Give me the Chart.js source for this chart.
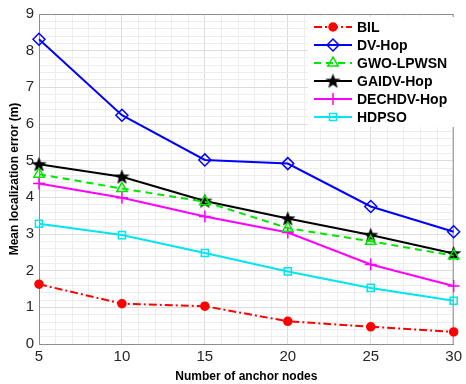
<!DOCTYPE html>
<html>
<head>
<meta charset="utf-8">
<script src="https://cdn.jsdelivr.net/npm/chart.js@4/dist/chart.umd.min.js"></script>
<style>
  html, body { margin: 0; padding: 0; background: #fff; }
  #wrap { width: 466px; height: 384px; }
</style>
</head>
<body>
<div id="wrap"><canvas id="chart" width="466" height="384"></canvas></div>
<script>
// data
const anchors = [5, 10, 15, 20, 25, 30];
const bil     = [1.63, 1.10, 1.03, 0.62, 0.47, 0.33];
const dvHop   = [8.31, 6.24, 5.02, 4.92, 3.75, 3.06];
const gwo     = [4.63, 4.24, 3.88, 3.16, 2.80, 2.41];
const gaidv   = [4.90, 4.56, 3.90, 3.42, 2.97, 2.47];
const dechdv  = [4.38, 3.99, 3.48, 3.04, 2.17, 1.58];
const hdpso   = [3.28, 2.97, 2.48, 1.98, 1.53, 1.18];
const xTicks  = [5, 10, 15, 20, 25, 30];
const yTicks  = [0, 1, 2, 3, 4, 5, 6, 7, 8, 9];

const pts = arr => arr.map((v, i) => ({ x: anchors[i], y: v }));

// filled five point star (MATLAB pentagram)
function pentagram(size) {
    const c = document.createElement('canvas');
    c.width = size; c.height = size;
    const g = c.getContext('2d');
    const cx = size / 2, cy = size / 2 + 0.5, R = size / 2 - 0.5, r = R * 0.42;
    g.beginPath();
    for (let i = 0; i < 10; i++) {
        const rad = i % 2 === 0 ? R : r;
        const a = -Math.PI / 2 + i * Math.PI / 5;
        g.lineTo(cx + rad * Math.cos(a), cy + rad * Math.sin(a));
    }
    g.closePath();
    g.fillStyle = '#000';
    g.fill();
    return c;
}
const starImg = pentagram(17);

const datasets = [
    { label: 'BIL', data: pts(bil), borderColor: '#ff0000', backgroundColor: '#ff0000',
      borderDash: [8, 3, 2, 3], pointStyle: 'circle', pointRadius: 4 },
    { label: 'DV-Hop', data: pts(dvHop), borderColor: '#0000ff', backgroundColor: 'rgba(0,0,0,0)',
      pointStyle: 'rectRot', pointRadius: 6 },
    { label: 'GWO-LPWSN', data: pts(gwo), borderColor: '#00e600', backgroundColor: 'rgba(0,0,0,0)',
      borderDash: [7, 5], pointStyle: 'triangle', pointRadius: 6 },
    { label: 'GAIDV-Hop', data: pts(gaidv), borderColor: '#000000', backgroundColor: '#000000',
      pointStyle: starImg, pointRadius: 8 },
    { label: 'DECHDV-Hop', data: pts(dechdv), borderColor: '#ff00ff', backgroundColor: '#ff00ff',
      pointStyle: 'cross', pointRadius: 6 },
    { label: 'HDPSO', data: pts(hdpso), borderColor: '#00e5ee', backgroundColor: 'rgba(0,0,0,0)',
      pointStyle: 'rect', pointRadius: 5 },
].map(d => Object.assign({
    borderWidth: 2, pointBorderWidth: 1.5, tension: 0, fill: false,
    pointBorderColor: d.borderColor, pointBackgroundColor: d.backgroundColor,
    clip: false
}, d));

const isMajor = v => Math.abs(v - Math.round(v)) < 1e-6;

// box around the plot
const boxPlugin = {
    id: 'box',
    beforeDatasetsDraw(chart) {
        const a = chart.chartArea, c = chart.ctx;
        c.save();
        c.strokeStyle = '#8c8c8c';
        c.lineWidth = 1;
        c.strokeRect(a.left + 0.5, a.top + 0.5, a.right - a.left - 1, a.bottom - a.top);
        c.restore();
    }
};

// MATLAB style legend inside the axes
const legendPlugin = {
    id: 'matLegend',
    afterDatasetsDraw(chart) {
        const c = chart.ctx;
        const x0 = 308, y0 = 17, w = 150, h = 110;
        c.save();
        c.fillStyle = '#fff';
        c.fillRect(x0, y0, w, h);
        chart.data.datasets.forEach((ds, i) => {
            const y = 27 + i * 18;
            c.strokeStyle = ds.borderColor;
            c.lineWidth = 2;
            c.setLineDash(ds.borderDash || []);
            c.beginPath();
            c.moveTo(314, y);
            c.lineTo(352, y);
            c.stroke();
            c.setLineDash([]);
            c.fillStyle = ds.pointBackgroundColor;
            c.strokeStyle = ds.pointBorderColor;
            c.lineWidth = 1.5;
            Chart.helpers.drawPoint(c, { pointStyle: ds.pointStyle, radius: ds.pointRadius, rotation: 0, borderWidth: 1.5 }, 333, y);
            c.fillStyle = '#000';
            c.font = 'bold 14px "Liberation Sans", Arial, sans-serif';
            c.textBaseline = 'middle';
            c.textAlign = 'left';
            c.fillText(ds.label, 357, y + 1);
        });
        c.restore();
    }
};

const tickFont = { family: '"Liberation Sans", Arial, sans-serif', size: 15 };
const titleFont = { family: '"Liberation Sans", Arial, sans-serif', size: 12, weight: 'bold' };

new Chart(document.getElementById('chart').getContext('2d'), {
    type: 'line',
    data: { datasets: datasets },
    options: {
        responsive: false,
        animation: false,
        layout: { padding: { top: 12, right: 5, left: 0, bottom: 0 } },
        plugins: { legend: { display: false }, tooltip: { enabled: false } },
        scales: {
            x: {
                type: 'linear', min: xTicks[0], max: xTicks[xTicks.length - 1],
                ticks: {
                    stepSize: 1, autoSkip: false, maxRotation: 0, color: '#262626', font: tickFont, padding: 4,
                    callback: v => xTicks.includes(v) ? String(v) : ''
                },
                grid: {
                    color: ctx => xTicks.includes(ctx.tick && ctx.tick.value) ? '#dcdcdc' : '#ededed',
                    tickLength: 0
                },
                border: { color: '#8c8c8c' },
                title: { display: true, text: 'Number of anchor nodes', color: '#000', font: titleFont, padding: { top: 2, bottom: 0 } },
                afterFit: s => { s.height = 40; }
            },
            y: {
                min: yTicks[0], max: yTicks[yTicks.length - 1],
                ticks: {
                    stepSize: 0.2, autoSkip: false, color: '#262626', font: tickFont, padding: 5,
                    callback: v => isMajor(v) ? String(Math.round(v)) : ''
                },
                grid: {
                    color: ctx => ctx.tick && isMajor(ctx.tick.value) ? '#dcdcdc' : '#ededed',
                    tickLength: 0
                },
                border: { color: '#8c8c8c' },
                title: { display: true, text: 'Mean localization error (m)', color: '#000', font: titleFont, padding: { top: 7, bottom: 0 } },
                afterFit: s => { s.width = 39; }
            }
        }
    },
    plugins: [boxPlugin, legendPlugin]
});
</script>
</body>
</html>
